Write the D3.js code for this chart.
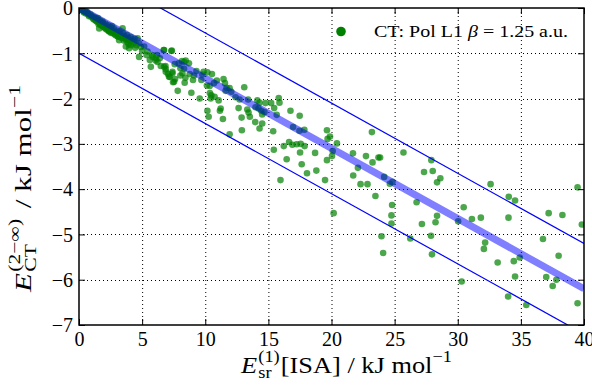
<!DOCTYPE html>
<html><head><meta charset="utf-8">
<script src="https://cdn.jsdelivr.net/npm/d3@7"></script>
<style>body{margin:0;background:#fff}svg{display:block}</style>
</head><body>
<svg id="c" width="592" height="388"></svg>
<script>
// ---- data ----
const xTicks = [0,5,10,15,20,25,30,35,40];
const yTicks = [0,-1,-2,-3,-4,-5,-6,-7];
const fitSlope = -0.155;          // fitted line through origin
const bandOffsets = [1, -1];       // thin guide lines: fit ± 1 kJ/mol
const legendLabel = "CT: Pol L1";
const ptsX = [
0.1,0.2,0.3,0.35,0.5,0.55,0.6,0.7,0.75,0.9,0.95,1.0,1.1,1.2,1.25,1.3,1.4,1.45,1.5,1.5,1.6,1.65,1.7,1.8,1.85,1.9,2.0,2.05,2.1,2.2,2.25,2.3,2.4,2.45,2.5,2.6,2.6,2.7,2.75,2.8,2.9,3.0,3.05,3.1,3.2,3.3,3.4,3.5,3.6,3.7,3.8,3.9,4.0,4.1,4.2,4.3,4.4,
0.4,0.8,1.15,1.35,1.55,1.75,1.95,2.15,2.35,2.55,2.85,3.25,3.55,3.95,4.55,4.9,5.0,
3.06,3.18,3.71,3.85,4.11,4.37,4.64,4.76,3.71,3.97,4.45,4.76,5.16,5.43,5.35,5.82,6.08,6.74,7.35,6.22,6.74,6.87,7.40,7.13,7.53,8.19,8.32,3.45,2.39,1.60,1.87,
5.79,6.18,6.71,7.32,5.61,6.08,6.40,5.69,6.48,6.85,6.87,7.05,7.40,7.58,7.90,8.16,8.45,8.03,8.32,8.71,7.19,7.61,7.45,8.03,8.43,8.77,9.03,8.37,9.11,9.30,9.77,9.87,10.17,10.53,9.69,10.13,10.35,10.69,10.92,11.45,11.56,11.69,11.61,12.06,11.93,13.09,7.82,8.90,9.56,10.37,10.48,10.74,11.06,10.43,12.40,12.72,13.40,14.12,14.30,14.77,13.98,14.22,14.43,14.69,10.17,11.22,11.16,10.27,11.40,12.64,13.33,13.43,12.88,13.53,13.96,14.30,12.90,11.93,
15.82,15.88,15.22,15.46,14.51,15.66,16.75,17.48,14.51,16.96,17.46,17.85,15.38,19.64,19.69,19.88,20.43,16.64,16.90,17.24,17.56,16.22,17.87,15.43,20.09,17.51,18.70,20.04,21.70,22.73,19.64,16.45,17.64,22.09,18.80,18.06,21.72,19.49,15.96,22.30,22.85,20.17,
23.20,25.70,23.25,23.72,23.85,27.91,27.33,28.02,28.62,28.36,24.17,24.62,24.83,32.60,39.49,23.48,34.04,34.54,26.74,24.80,30.47,37.20,38.29,24.75,28.36,31.12,31.83,34.02,30.03,39.83,27.16,24.75,28.24,23.96,27.88,26.24,36.75,32.17,32.07,24.09,27.96,37.99,34.91,34.44,33.16,34.54,37.01,37.81,37.52,30.31,33.99,35.43,39.49
];
const ptsY = [
-0.02,-0.04,-0.05,-0.08,-0.08,-0.12,-0.07,-0.11,-0.15,-0.14,-0.19,-0.17,-0.22,-0.20,-0.26,-0.22,-0.30,-0.25,-0.28,-0.22,-0.33,-0.27,-0.36,-0.31,-0.40,-0.34,-0.38,-0.44,-0.35,-0.41,-0.48,-0.38,-0.45,-0.52,-0.42,-0.49,-0.40,-0.56,-0.45,-0.52,-0.60,-0.50,-0.55,-0.63,-0.52,-0.58,-0.66,-0.56,-0.62,-0.70,-0.60,-0.66,-0.72,-0.64,-0.70,-0.78,-0.68,
-0.10,-0.18,-0.25,-0.28,-0.36,-0.38,-0.42,-0.47,-0.50,-0.55,-0.58,-0.64,-0.72,-0.80,-0.82,-0.86,-0.95,
-0.63,-0.71,-0.67,-0.76,-0.82,-0.74,-0.67,-0.78,-0.85,-0.89,-0.88,-1.08,-0.85,-0.96,-1.04,-1.08,-1.11,-0.93,-0.94,-1.19,-1.30,-1.41,-1.44,-1.52,-1.63,-1.44,-1.19,-0.45,-0.52,-0.45,-0.30,
-1.04,-1.04,-0.93,-0.95,-1.15,-1.16,-1.11,-1.30,-1.28,-1.28,-1.35,-1.46,-1.41,-1.24,-1.22,-1.17,-1.16,-1.33,-1.34,-1.22,-1.52,-1.57,-1.64,-1.49,-1.54,-1.46,-1.59,-1.65,-1.49,-1.39,-1.47,-1.41,-1.42,-1.46,-1.59,-1.71,-1.72,-1.66,-1.60,-1.57,-1.66,-1.76,-1.83,-1.85,-1.77,-1.75,-1.83,-1.87,-2.00,-1.88,-1.93,-1.96,-2.04,-2.00,-1.97,-2.02,-2.02,-2.04,-2.09,-2.10,-2.19,-2.22,-2.27,-2.30,-2.27,-2.22,-2.27,-2.40,-2.45,-2.21,-2.24,-2.31,-2.42,-2.40,-2.52,-2.66,-2.70,-2.79,
-1.99,-2.09,-2.10,-2.21,-2.35,-2.36,-2.27,-2.38,-2.55,-2.63,-2.71,-2.69,-2.72,-2.70,-2.89,-2.84,-2.99,-2.96,-3.02,-3.01,-3.00,-3.05,-3.05,-3.13,-3.16,-3.19,-3.20,-3.27,-3.21,-3.27,-3.36,-3.34,-3.45,-3.53,-3.59,-3.65,-3.70,-3.80,-3.80,-3.89,-3.89,-4.53,
-2.74,-3.19,-3.41,-3.30,-3.30,-3.36,-3.62,-3.60,-3.76,-3.85,-3.73,-3.88,-3.84,-3.89,-3.96,-4.15,-4.17,-4.25,-4.29,-4.35,-4.40,-4.53,-4.57,-4.58,-4.59,-4.66,-4.63,-4.63,-4.71,-4.78,-4.77,-4.76,-4.73,-5.04,-5.03,-5.09,-5.10,-5.18,-5.32,-5.41,-5.44,-5.47,-5.51,-5.59,-5.62,-5.93,-5.94,-6.00,-6.14,-6.04,-6.37,-6.56,-6.52
];

// ---- drawing ----
const svg = d3.select("#c");
const L = 79, R = 584, T = 8, B = 325;
const x = d3.scaleLinear().domain([0,40]).range([L,R]);
const y = d3.scaleLinear().domain([-7,0]).range([B,T]);
const FONT = "'Liberation Serif','DejaVu Serif',serif";
const fmt = v => v < 0 ? "\u2212" + Math.abs(v) : String(v);

svg.append("defs").append("clipPath").attr("id","clip")
  .append("rect").attr("x",L).attr("y",T).attr("width",R-L).attr("height",B-T);

// grid
const grid = svg.append("g").attr("stroke","#000").attr("stroke-width",1).attr("stroke-dasharray","1,3");
grid.selectAll(".gx").data(xTicks.slice(1,-1)).join("line")
  .attr("x1",d=>x(d)+0.5).attr("x2",d=>x(d)+0.5).attr("y1",T).attr("y2",B);
grid.selectAll(".gy").data(yTicks.slice(1,-1)).join("line")
  .attr("y1",d=>Math.round(y(d))+0.5).attr("y2",d=>Math.round(y(d))+0.5).attr("x1",L).attr("x2",R);

// points
const pts = d3.range(ptsX.length).map(i => [ptsX[i], ptsY[i]]);
const plot = svg.append("g").attr("clip-path","url(#clip)");
plot.append("g").selectAll("circle").data(pts).join("circle")
  .attr("cx",d=>x(d[0])).attr("cy",d=>y(d[1])).attr("r",3.3)
  .attr("fill","#008000").attr("fill-opacity",0.7);

// fit line (thick translucent) and guide lines
const line = d3.line().x(d=>x(d[0])).y(d=>y(d[1]));
plot.append("path").datum([[0,0],[40,40*fitSlope]]).attr("d",line)
  .attr("stroke","#0000ff").attr("stroke-opacity",0.5).attr("stroke-width",7).attr("fill","none");
bandOffsets.forEach(o => {
  plot.append("path").datum([[0,o],[40,40*fitSlope+o]]).attr("d",line)
    .attr("stroke","#0000ff").attr("stroke-width",1.2).attr("fill","none");
});

// axes with inside ticks on all sides
const axB = svg.append("g").attr("transform",`translate(0,${B})`)
  .call(d3.axisBottom(x).tickValues(xTicks).tickSize(-6).tickPadding(7).tickFormat(fmt));
const axT = svg.append("g").attr("transform",`translate(0,${T})`)
  .call(d3.axisTop(x).tickValues(xTicks).tickSize(-6).tickFormat(""));
const axL = svg.append("g").attr("transform",`translate(${L},0)`)
  .call(d3.axisLeft(y).tickValues(yTicks).tickSize(-6).tickPadding(6).tickFormat(fmt));
const axR = svg.append("g").attr("transform",`translate(${R},0)`)
  .call(d3.axisRight(y).tickValues(yTicks).tickSize(-6).tickFormat(""));
[axB,axT,axL,axR].forEach(a => {
  a.select(".domain").remove();
  a.selectAll(".tick line").attr("stroke","#000").attr("stroke-width",1);
  a.selectAll("text").attr("font-family",FONT).attr("font-size",20).attr("fill","#000");
});
axB.selectAll("text").attr("dy","0.71em");
axL.selectAll("text").attr("dy","0.34em");
svg.append("rect").attr("x",L).attr("y",T).attr("width",R-L).attr("height",B-T)
  .attr("fill","none").attr("stroke","#000").attr("stroke-width",1.5);

// legend
svg.append("circle").attr("cx",341).attr("cy",31.5).attr("r",4.8).attr("fill","#008000");
const lt = svg.append("text").attr("x",374).attr("y",36.5).attr("font-family",FONT).attr("font-size",16.5)
  .attr("textLength",194).attr("lengthAdjust","spacingAndGlyphs");
lt.append("tspan").text(legendLabel + " ");
lt.append("tspan").attr("font-style","italic").text("\u03b2");
lt.append("tspan").text(" = 1.25 a.u.");

// math-style label builder: pieces laid out left to right; "stack" piece restarts at previous piece's start
function mathLabel(g, pieces, big, small) {
  let cx = 0, prevStart = 0, maxEnd = 0;
  pieces.forEach(p => {
    const start = p.stack ? prevStart : cx;
    const t = g.append("text").attr("x",start).attr("y",p.shift||0)
      .attr("font-family",FONT).attr("font-size",p.small?small:big)
      .attr("font-style",p.italic?"italic":"normal").attr("xml:space","preserve")
      .style("white-space","pre").text(p.t);
    const w = t.node().getComputedTextLength();
    const end = start + w + (p.gap||0);
    prevStart = start;
    maxEnd = Math.max(maxEnd, end);
    cx = maxEnd;
  });
  return maxEnd;
}
// x label: spans x 241..452, baseline 373
const xg = svg.append("g");
const xin = xg.append("g");
const xw = mathLabel(xin, [
  {t:"E", italic:true, gap:1},
  {t:"sr", small:true, shift:5},
  {t:"(1)", small:true, shift:-11, stack:true, gap:1},
  {t:"[ISA] / kJ mol"},
  {t:"\u22121", small:true, shift:-11}
], 23, 16);
xg.attr("transform",`translate(241,373) scale(${211/xw},1)`);

// y label: spans y 292..85, baseline x 31
const yg = svg.append("g");
const yin = yg.append("g");
const yw = mathLabel(yin, [
  {t:"E", italic:true, gap:1},
  {t:"CT", small:true, shift:5},
  {t:"(2\u2212\u221e)", small:true, shift:-11, stack:true, gap:2},
  {t:" / kJ mol"},
  {t:"\u22121", small:true, shift:-11}
], 23, 16);
yg.attr("transform",`translate(31,292) rotate(-90) scale(${207/yw},1)`);
</script>
</body></html>
